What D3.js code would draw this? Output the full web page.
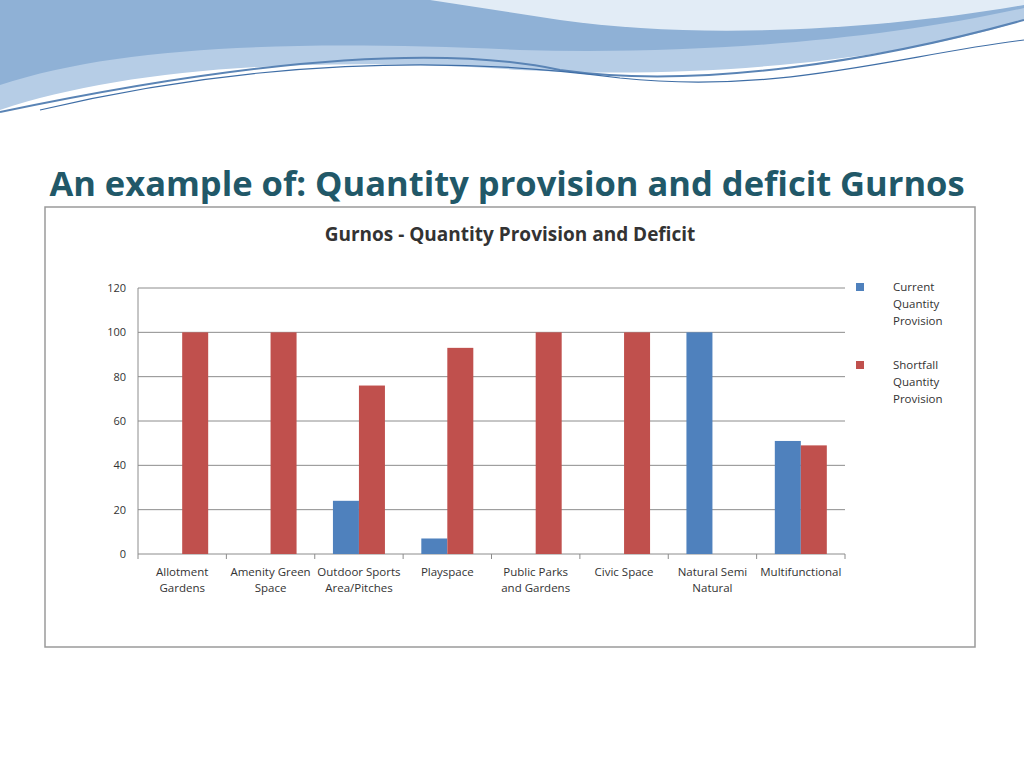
<!DOCTYPE html>
<html><head><meta charset="utf-8">
<script src="https://cdn.jsdelivr.net/npm/d3@7"></script>
<style>body{margin:0;background:#fff}svg{display:block;font-family:"Open Sans",Calibri,sans-serif}</style>
</head><body><svg width="1024" height="768"></svg>
<script>
var categories = [["Allotment","Gardens"],["Amenity Green","Space"],["Outdoor Sports","Area/Pitches"],["Playspace"],["Public Parks","and Gardens"],["Civic Space"],["Natural Semi","Natural"],["Multifunctional"]];
var current = [0, 0, 24, 7, 0, 0, 100, 51];
var shortfall = [100, 100, 76, 93, 100, 100, 0, 49];
var series = [
  {name: ["Current","Quantity","Provision"], values: current, color: "#4f81bd"},
  {name: ["Shortfall","Quantity","Provision"], values: shortfall, color: "#c0504d"}
];
var yTicks = [0, 20, 40, 60, 80, 100, 120];

var svg = d3.select("svg");

// header swoosh
svg.append("path").attr("d","M0,0 H1024 V20 C900,60 700,80 520,70 C300,55 120,70 0,110 Z").attr("fill","#b6cde6");
svg.append("path").attr("d","M0,0 H1024 V8 C880,40 700,55 520,50 C300,40 120,45 0,85 Z").attr("fill","#8fb1d6");
svg.append("path").attr("d","M430,0 H1024 V5 C880,30 700,40 560,20 Z").attr("fill","#e2ecf6");
svg.append("path").attr("d","M0,112 C200,70 420,40 560,70 C700,90 880,60 1024,20").attr("fill","none").attr("stroke","#5a84b5").attr("stroke-width",2);
svg.append("path").attr("d","M40,110 C250,60 450,55 620,78 C780,95 900,55 1024,40").attr("fill","none").attr("stroke","#3f6ea6").attr("stroke-width",1.2);

svg.append("text").attr("x",507).attr("y",196).attr("text-anchor","middle")
  .attr("font-size",34.5).attr("font-weight","bold").attr("fill","#215868")
  .text("An example of: Quantity provision and deficit Gurnos");

svg.append("rect").attr("x",45).attr("y",207).attr("width",930).attr("height",440)
  .attr("fill","#fff").attr("stroke","#9a9a9a").attr("stroke-width",1.5);

svg.append("text").attr("x",510).attr("y",241).attr("text-anchor","middle")
  .attr("font-size",19).attr("font-weight","bold").attr("fill","#333").text("Gurnos - Quantity Provision and Deficit");

var x = d3.scaleBand().domain(d3.range(categories.length)).range([138, 845]);
var y = d3.scaleLinear().domain([0, 120]).range([554, 288]);
var bw = 26;

var g = svg.append("g");
g.selectAll(".grid").data(yTicks).enter().append("line")
  .attr("x1",138).attr("x2",845).attr("y1",d=>y(d)).attr("y2",d=>y(d))
  .attr("stroke","#8c8c8c").attr("stroke-width",1);
g.append("line").attr("x1",138).attr("x2",138).attr("y1",288).attr("y2",554).attr("stroke","#8c8c8c");
g.selectAll(".tk").data(d3.range(categories.length+1)).enter().append("line")
  .attr("x1",i=>138+i*x.bandwidth()).attr("x2",i=>138+i*x.bandwidth()).attr("y1",554).attr("y2",559).attr("stroke","#8c8c8c");
g.selectAll(".yl").data(yTicks).enter().append("text")
  .attr("x",126).attr("y",d=>y(d)+4).attr("text-anchor","end").attr("font-size",11).attr("fill","#333").text(d=>d);

series.forEach(function(s, si) {
  g.selectAll(".b"+si).data(s.values).enter().append("rect")
    .attr("x",(d,i)=>x(i)+x.bandwidth()/2-bw+si*bw).attr("width",bw)
    .attr("y",d=>y(d)).attr("height",d=>y(0)-y(d)).attr("fill",s.color);
});

categories.forEach(function(c, i) {
  var t = g.append("text").attr("text-anchor","middle").attr("font-size",11.5).attr("fill","#333");
  c.forEach(function(line, k) {
    t.append("tspan").attr("x",x(i)+x.bandwidth()/2).attr("y",576+k*16).text(line);
  });
});

series.forEach(function(s, si) {
  var ly = 283 + si*78;
  svg.append("rect").attr("x",856).attr("y",ly).attr("width",8).attr("height",8).attr("fill",s.color);
  var t = svg.append("text").attr("font-size",11.5).attr("fill","#333");
  s.name.forEach(function(line,k){
    t.append("tspan").attr("x",893).attr("y",ly+8+k*17).text(line);
  });
});
</script></body></html>
